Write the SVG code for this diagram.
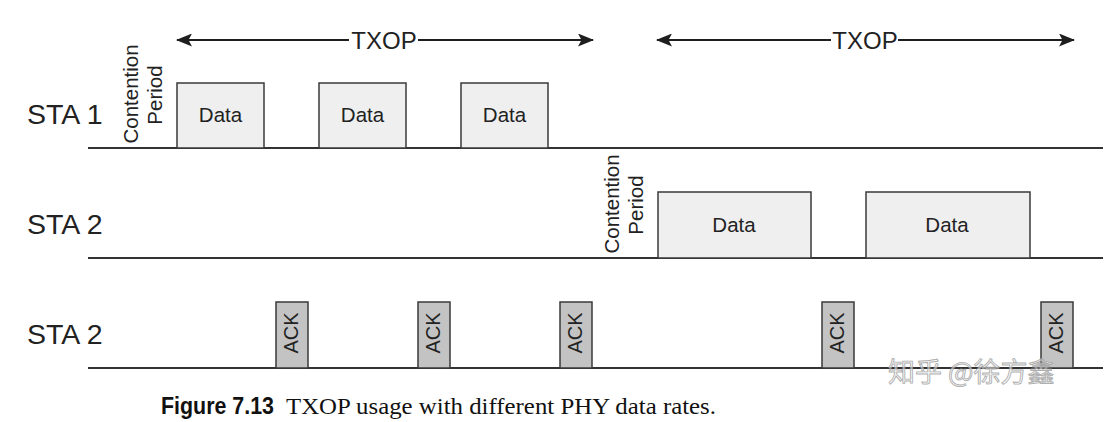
<svg xmlns="http://www.w3.org/2000/svg" width="1108" height="422" viewBox="0 0 1108 422">
<defs>
<marker id="ah" viewBox="0 0 16 13" refX="15" refY="6.5" markerWidth="16" markerHeight="13" markerUnits="userSpaceOnUse" orient="auto-start-reverse">
<path d="M0,0 L16,6.5 L0,13 L3.5,6.5 Z" fill="#1e1e1e"/>
</marker>
<style>
.lbl{font-family:"Liberation Sans",Arial,sans-serif;fill:#222;}
.row{font-size:28.5px;}
.dat{font-size:20.5px;text-anchor:middle;}
.cp{font-size:20.5px;text-anchor:middle;}
.ack{font-size:20px;text-anchor:middle;}
.txop{font-size:24px;text-anchor:middle;}
.base{stroke:#333;stroke-width:2;fill:none;}
.data{fill:#efefef;stroke:#3a3a3a;stroke-width:1.5;}
.ackb{fill:#c3c3c3;stroke:#3a3a3a;stroke-width:1.5;}
.arr{stroke:#1e1e1e;stroke-width:1.8;fill:none;}
</style>
</defs>
<rect width="1108" height="422" fill="#ffffff"/>

<g id="connectors">
<line class="base" x1="88" y1="148" x2="1103" y2="148"/>
<line class="base" x1="88" y1="258" x2="1103" y2="258"/>
<line class="base" x1="88" y1="368" x2="1103" y2="368"/>
<line class="arr" x1="349" y1="40" x2="177" y2="40" marker-end="url(#ah)"/>
<line class="arr" x1="418" y1="40" x2="593" y2="40" marker-end="url(#ah)"/>
<line class="arr" x1="831" y1="40" x2="657" y2="40" marker-end="url(#ah)"/>
<line class="arr" x1="898" y1="40" x2="1074" y2="40" marker-end="url(#ah)"/>
</g>

<g id="txop1"><text class="lbl txop" x="384" y="48.5">TXOP</text></g>
<g id="txop2"><text class="lbl txop" x="865" y="48.5">TXOP</text></g>

<g id="label-sta1"><text class="lbl row" x="27" y="124">STA 1</text></g>
<g id="label-sta2a"><text class="lbl row" x="27" y="234">STA 2</text></g>
<g id="label-sta2b"><text class="lbl row" x="27" y="344">STA 2</text></g>

<g id="contention1">
<text class="lbl cp" transform="translate(138,94) rotate(-90)">Contention</text>
<text class="lbl cp" transform="translate(162,95) rotate(-90)">Period</text>
</g>
<g id="contention2">
<text class="lbl cp" transform="translate(619,204) rotate(-90)">Contention</text>
<text class="lbl cp" transform="translate(643,205) rotate(-90)">Period</text>
</g>

<g id="sta1-data1"><rect class="data" x="177" y="83" width="87" height="65"/><text class="lbl dat" x="220.5" y="122">Data</text></g>
<g id="sta1-data2"><rect class="data" x="319" y="83" width="87" height="65"/><text class="lbl dat" x="362.5" y="122">Data</text></g>
<g id="sta1-data3"><rect class="data" x="461" y="83" width="87" height="65"/><text class="lbl dat" x="504.5" y="122">Data</text></g>

<g id="sta2-data1"><rect class="data" x="658" y="192" width="153" height="66"/><text class="lbl dat" x="734" y="232">Data</text></g>
<g id="sta2-data2"><rect class="data" x="866" y="192" width="164" height="66"/><text class="lbl dat" x="947" y="232">Data</text></g>

<g id="ack1"><rect class="ackb" x="276" y="302" width="32" height="66"/><text class="lbl ack" transform="translate(298,333) rotate(-90)">ACK</text></g>
<g id="ack2"><rect class="ackb" x="418" y="302" width="32" height="66"/><text class="lbl ack" transform="translate(440,333) rotate(-90)">ACK</text></g>
<g id="ack3"><rect class="ackb" x="560" y="302" width="32" height="66"/><text class="lbl ack" transform="translate(582,333) rotate(-90)">ACK</text></g>
<g id="ack4"><rect class="ackb" x="822" y="302" width="32" height="66"/><text class="lbl ack" transform="translate(844,333) rotate(-90)">ACK</text></g>
<g id="ack5"><rect class="ackb" x="1041" y="302" width="32" height="66"/><text class="lbl ack" transform="translate(1063,333) rotate(-90)">ACK</text></g>

<g id="watermark">
<text x="888" y="382" font-family="'Noto Sans CJK SC',sans-serif" font-size="27" fill="#f2f2f2" fill-opacity="0.6" stroke="#9a9a9a" stroke-width="0.9" stroke-opacity="0.8">知乎 @徐方鑫</text>
</g>

<g id="caption">
<text x="161" y="414" font-family="'Liberation Sans',Arial,sans-serif" font-weight="bold" font-size="24" fill="#111" textLength="113" lengthAdjust="spacingAndGlyphs">Figure 7.13</text>
<text x="286" y="414" font-family="'Liberation Serif','Times New Roman',serif" font-size="24" fill="#111" textLength="430" lengthAdjust="spacingAndGlyphs">TXOP usage with different PHY data rates.</text>
</g>
</svg>
